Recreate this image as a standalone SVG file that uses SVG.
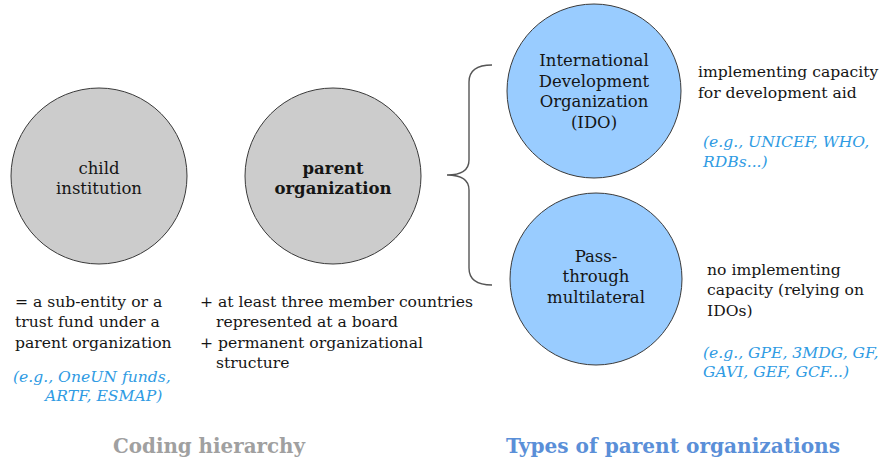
<svg xmlns="http://www.w3.org/2000/svg" width="882" height="462" viewBox="0 0 882 462">
<style>
text{font-family:"DejaVu Serif","Liberation Serif",serif;fill:#151515}
.c{font-size:16.5px;text-anchor:middle}
.t{font-size:15.6px}
.e{font-size:15.6px;font-style:italic;fill:#2f9be3}
.gray{fill:#cccccc;stroke:#3a3a3a;stroke-width:1}
.blue{fill:#99ccff;stroke:#3a3a3a;stroke-width:1}
.h{font-family:"DejaVu Serif",serif;font-weight:bold;font-size:20px}
</style>
<rect width="882" height="462" fill="#ffffff"/>
<g id="connectors">
<path d="M492,65 Q469,65 469,82 L469,160 Q469,175 447,175 Q469,175 469,190 L469,268 Q469,285 492,285" fill="none" stroke="#555" stroke-width="1.4"/>
</g>
<g id="child">
<circle class="gray" cx="99" cy="176" r="88"/>
<text class="c" x="99" y="174">child</text>
<text class="c" x="99" y="194">institution</text>
</g>
<g id="parent">
<circle class="gray" cx="333" cy="176" r="88"/>
<text class="c" x="333" y="174" font-weight="bold">parent</text>
<text class="c" x="333" y="194" font-weight="bold">organization</text>
</g>
<g id="ido">
<circle class="blue" cx="594" cy="91" r="87"/>
<text class="c" x="594" y="66">International</text>
<text class="c" x="594" y="87">Development</text>
<text class="c" x="594" y="107">Organization</text>
<text class="c" x="594" y="128">(IDO)</text>
</g>
<g id="passthrough">
<circle class="blue" cx="596" cy="279" r="86"/>
<text class="c" x="596" y="262">Pass-</text>
<text class="c" x="596" y="282">through</text>
<text class="c" x="596" y="303">multilateral</text>
</g>
<g id="child-desc">
<text class="t" x="15" y="307">= a sub-entity or a</text>
<text class="t" x="15" y="327">trust fund under a</text>
<text class="t" x="15" y="348">parent organization</text>
<text class="e" x="13" y="382">(e.g., OneUN funds,</text>
<text class="e" x="45" y="401">ARTF, ESMAP)</text>
</g>
<g id="parent-desc">
<text class="t" x="200" y="307">+ at least three member countries</text>
<text class="t" x="216" y="327">represented at a board</text>
<text class="t" x="200" y="348">+ permanent organizational</text>
<text class="t" x="216" y="368">structure</text>
</g>
<g id="ido-desc">
<text class="t" x="698" y="77">implementing capacity</text>
<text class="t" x="698" y="98">for development aid</text>
<text class="e" x="703" y="147">(e.g., UNICEF, WHO,</text>
<text class="e" x="703" y="167">RDBs...)</text>
</g>
<g id="pass-desc">
<text class="t" x="707" y="275">no implementing</text>
<text class="t" x="707" y="295">capacity (relying on</text>
<text class="t" x="707" y="316">IDOs)</text>
<text class="e" x="703" y="358">(e.g., GPE, 3MDG, GF,</text>
<text class="e" x="703" y="377">GAVI, GEF, GCF...)</text>
</g>
<g id="titles">
<text class="h" x="113" y="453" style="fill:#a0a0a0" textLength="192" lengthAdjust="spacingAndGlyphs">Coding hierarchy</text>
<text class="h" x="506" y="453" style="fill:#5a8fd8" textLength="334" lengthAdjust="spacingAndGlyphs">Types of parent organizations</text>
</g>
</svg>
